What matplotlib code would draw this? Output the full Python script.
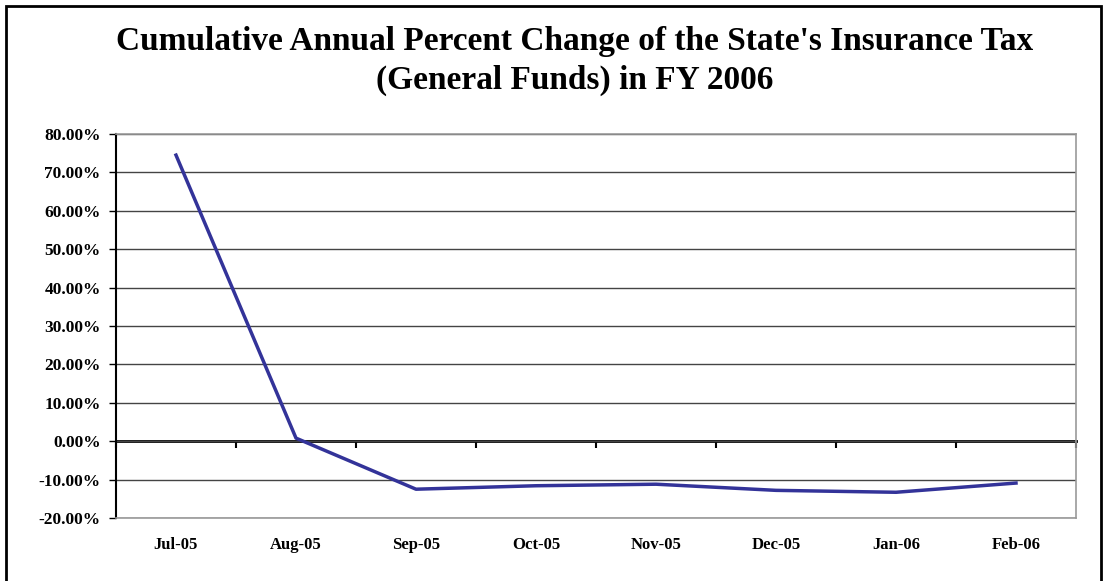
import matplotlib
matplotlib.use("Agg")
import matplotlib.pyplot as plt
from matplotlib.ticker import FuncFormatter
from matplotlib.patches import Rectangle

months = ['Jul-05', 'Aug-05', 'Sep-05', 'Oct-05', 'Nov-05', 'Dec-05', 'Jan-06', 'Feb-06']
pct_change = [74.5, 0.8, -12.5, -11.6, -11.2, -12.8, -13.3, -10.9]
y_ticks = [-20, -10, 0, 10, 20, 30, 40, 50, 60, 70, 80]

plt.rcParams['font.family'] = ['Liberation Serif', 'DejaVu Serif']

fig = plt.figure(figsize=(11.07, 5.81), dpi=100)
fig.patches.append(Rectangle((0.005, -0.01), 0.99, 1.0, transform=fig.transFigure,
                             fill=False, edgecolor='black', linewidth=2))
ax = fig.add_axes([116 / 1107, 63 / 581, 960 / 1107, 384 / 581])

x = list(range(len(months)))
ax.plot(x, pct_change, color='#333399', linewidth=2.5, zorder=3)

ax.set_xlim(-0.5, len(months) - 0.5)
ax.set_ylim(-20, 80)
ax.set_yticks(y_ticks)
ax.yaxis.set_major_formatter(FuncFormatter(lambda v, p: '%.2f%%' % v))
ax.grid(axis='y', color='#444444', linewidth=1)
ax.set_axisbelow(True)

ax.set_xticks(x)
ax.set_xticklabels(months)
ax.tick_params(axis='x', length=0, pad=14)
ax.tick_params(axis='y', length=5, width=1, direction='out', pad=6)
for lab in ax.get_xticklabels():
    lab.set_fontweight('bold')
    lab.set_fontsize(12)
for lab in ax.get_yticklabels():
    lab.set_fontweight('bold')
    lab.set_fontsize(12.5)

ax.spines['left'].set_color('black')
ax.spines['left'].set_linewidth(1.5)
for s in ['top', 'right', 'bottom']:
    ax.spines[s].set_color('#999999')
    ax.spines[s].set_linewidth(1.2)

# category axis drawn at zero
zero_axis = ax.secondary_xaxis(0.2)
zero_axis.set_xticks([i - 0.5 for i in range(len(months) + 1)])
zero_axis.set_xticklabels([])
zero_axis.tick_params(length=5, width=1.5, direction='out', color='black')
zero_axis.spines['bottom'].set_linewidth(2)
zero_axis.spines['bottom'].set_color('black')

fig.suptitle("Cumulative Annual Percent Change of the State's Insurance Tax\n(General Funds) in FY 2006",
             fontsize=24, fontweight='bold', x=0.519, y=0.955, linespacing=1.3)

fig.savefig('out.png', dpi=100)
